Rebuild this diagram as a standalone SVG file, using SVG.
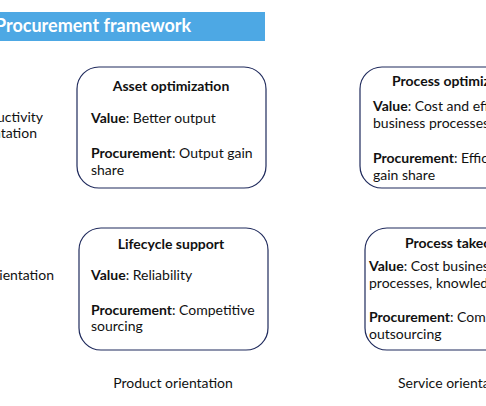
<svg xmlns="http://www.w3.org/2000/svg" width="486" height="406" viewBox="0 0 486 406">
<style>
text{font-family:Lato,"Open Sans","Liberation Sans",sans-serif;font-size:14px;fill:#111}
.b{font-weight:bold}
.t{font-weight:bold;text-anchor:middle}
.c{text-anchor:middle}
.e{text-anchor:end}
.box{fill:#fff;stroke:#1f2a5c;stroke-width:1.2}
</style>
<rect x="0" y="0" width="486" height="406" fill="#fff"/>
<g id="header">
<rect x="0" y="12" width="265" height="29" fill="#4da8e4"/>
<text x="-5" y="32" style="font-size:18px;font-weight:bold;fill:#fff">Procurement framework</text>
</g>
<g id="row-labels">
<text x="43" y="122" class="e">Productivity</text>
<text x="37" y="138" class="e">orientation</text>
<text x="54" y="280" class="e">orientation</text>
</g>
<g id="col-labels">
<text x="173" y="388" class="c">Product orientation</text>
<text x="398" y="388">Service orientation</text>
</g>
<g id="connectors"></g>
<g id="asset-optimization">
<rect class="box" x="77" y="67" width="189" height="121" rx="22"/>
<text x="171" y="91" class="t">Asset optimization</text>
<text x="91" y="123"><tspan class="b">Value</tspan>: Better output</text>
<text x="91" y="158"><tspan class="b">Procurement</tspan>: Output gain</text>
<text x="91" y="175">share</text>
</g>
<g id="process-optimization">
<rect class="box" x="360" y="67" width="190" height="121" rx="22"/>
<text x="392" y="86" class="b">Process optimization</text>
<text x="373" y="111"><tspan class="b">Value</tspan>: Cost and efficiency of</text>
<text x="373" y="128">business processes</text>
<text x="373" y="163"><tspan class="b">Procurement</tspan>: Efficiency</text>
<text x="373" y="180">gain share</text>
</g>
<g id="lifecycle-support">
<rect class="box" x="79" y="228" width="189" height="122" rx="22"/>
<text x="171" y="249" class="t">Lifecycle support</text>
<text x="91" y="280"><tspan class="b">Value</tspan>: Reliability</text>
<text x="91" y="315"><tspan class="b">Procurement</tspan>: Competitive</text>
<text x="91" y="331">sourcing</text>
</g>
<g id="process-takeover">
<rect class="box" x="365" y="228" width="190" height="122" rx="22"/>
<text x="405" y="248" class="b">Process takeover</text>
<text x="369" y="271"><tspan class="b">Value</tspan>: Cost business</text>
<text x="369" y="288">processes, knowledge</text>
<text x="369" y="322"><tspan class="b">Procurement</tspan>: Competitive</text>
<text x="369" y="339">outsourcing</text>
</g>
</svg>
